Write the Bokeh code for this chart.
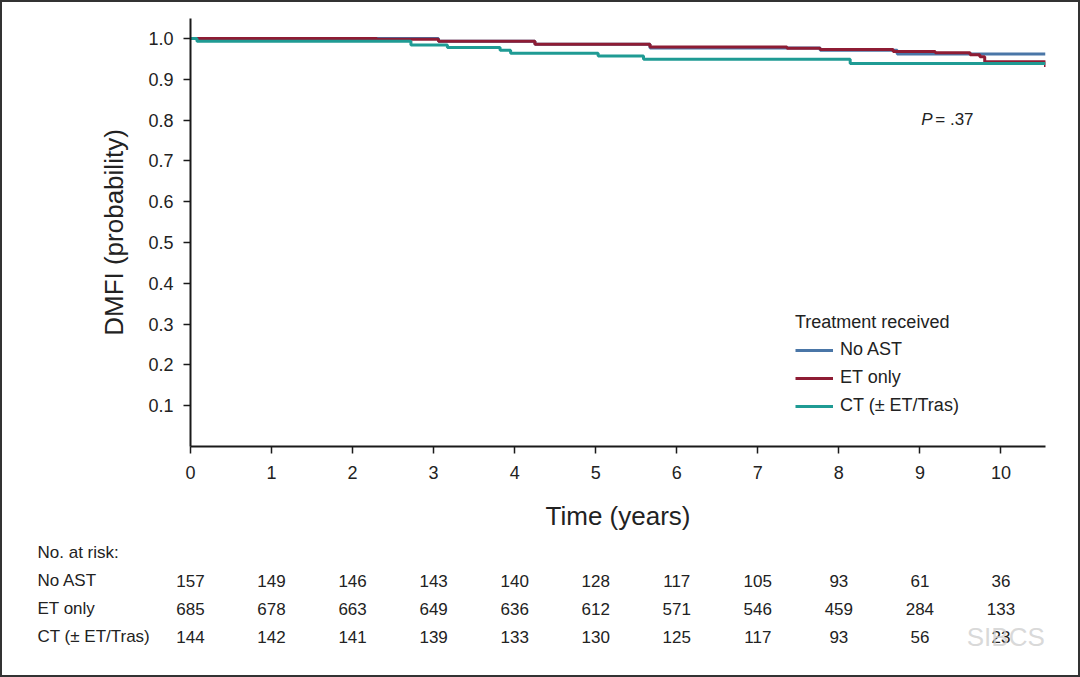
from bokeh.plotting import figure
from bokeh.models import Range1d, Legend, LegendItem, Label, FixedTicker, NumeralTickFormatter
from bokeh.layouts import column
from bokeh.embed import file_html
from bokeh.resources import INLINE
from bokeh.core.properties import value

# ---------------- data ----------------
years = [0, 1, 2, 3, 4, 5, 6, 7, 8, 9, 10]
y_ticks = [0.1, 0.2, 0.3, 0.4, 0.5, 0.6, 0.7, 0.8, 0.9, 1.0]
groups = ["No AST", "ET only", "CT (\u00b1 ET/Tras)"]
colors = ["#4a76a7", "#8e1c34", "#1f9b94"]

noast_t = [0, 3.06, 4.25, 5.67, 7.77, 8.72, 10.55]
noast_s = [1.0, 0.993, 0.986, 0.977, 0.971, 0.962, 0.962]

et_t = [0, 2.3, 3.06, 4.25, 5.67, 7.36, 7.77, 8.67, 9.19, 9.62, 9.74, 9.80, 10.55]
et_s = [1.0, 0.998, 0.993, 0.986, 0.979, 0.976, 0.973, 0.968, 0.965, 0.960, 0.955, 0.943, 0.930]

ct_t = [0, 0.08, 2.72, 3.17, 3.82, 3.95, 5.03, 5.59, 8.14, 10.55]
ct_s = [1.0, 0.993, 0.984, 0.978, 0.971, 0.964, 0.957, 0.949, 0.939, 0.939]

noast_risk = [157, 149, 146, 143, 140, 128, 117, 105, 93, 61, 36]
et_risk = [685, 678, 663, 649, 636, 612, 571, 546, 459, 284, 133]
ct_risk = [144, 142, 141, 139, 133, 130, 125, 117, 93, 56, 23]

risk_header = "No. at risk:"
p_value_label = "= .37"
x_end = 10.55
y_end = 1.049

FONT = "Liberation Sans"
TXT = "#222222"

# ---------------- main plot ----------------
W = 1076
left_b, right_b = 188, 33
p = figure(width=W, height=538, x_range=Range1d(0, x_end), y_range=Range1d(0, y_end),
           min_border_left=left_b, min_border_right=right_b, min_border_top=16,
           min_border_bottom=94, output_backend="svg", toolbar_location=None)
p.outline_line_color = None
p.grid.visible = False
p.background_fill_color = "white"
p.border_fill_color = "white"

for ax in (p.xaxis[0], p.yaxis[0]):
    ax.axis_line_color = "#1a1a1a"
    ax.axis_line_width = 2
    ax.major_tick_line_color = "#1a1a1a"
    ax.major_tick_line_width = 1.5
    ax.major_tick_out = 7
    ax.major_tick_in = 0
    ax.minor_tick_line_color = None
    ax.major_label_text_font = FONT
    ax.major_label_text_color = TXT
    ax.axis_label_text_font = FONT
    ax.axis_label_text_color = TXT
    ax.axis_label_text_font_style = "normal"

p.xaxis.ticker = FixedTicker(ticks=years)
p.xaxis.major_label_text_font_size = "18px"
p.xaxis.major_label_standoff = 12
p.xaxis.axis_label = "Time (years)"
p.xaxis.axis_label_text_font_size = "26px"
p.xaxis.axis_label_standoff = 19

p.yaxis.ticker = FixedTicker(ticks=y_ticks)
p.yaxis.formatter = NumeralTickFormatter(format="0.0")
p.yaxis.major_label_text_font_size = "18px"
p.yaxis.major_label_standoff = 10
p.yaxis.axis_label = "DMFI (probability)"
p.yaxis.axis_label_text_font_size = "26px"
p.yaxis.axis_label_standoff = 16

r_no = p.step(noast_t, noast_s, mode="after", line_color=colors[0], line_width=3)
r_et = p.step(et_t, et_s, mode="after", line_color=colors[1], line_width=3)
r_ct = p.step(ct_t, ct_s, mode="after", line_color=colors[2], line_width=3)

legend = Legend(items=[LegendItem(label=groups[0], renderers=[r_no]),
                       LegendItem(label=groups[1], renderers=[r_et]),
                       LegendItem(label=groups[2], renderers=[r_ct])],
                location=(605, 30), title="Treatment received",
                title_text_font=FONT, title_text_font_size="18px", title_text_color=TXT,
                title_text_font_style="normal", title_standoff=6,
                label_text_font=FONT, label_text_font_size="18px", label_text_color=TXT,
                glyph_width=38, glyph_height=18, label_height=18, label_standoff=7,
                spacing=7, padding=0, margin=0,
                background_fill_alpha=0, border_line_color=None)
p.add_layout(legend)

ppy = (W - left_b - right_b) / x_end
p.add_layout(Label(x=9.156, y=0.801, text="P", text_font=FONT, text_font_size="17px",
                   text_font_style="italic", text_color=TXT, text_align="right",
                   text_baseline="middle"))
p.add_layout(Label(x=9.19, y=0.801, text=p_value_label, text_font=FONT, text_font_size="17px",
                   text_color=TXT, text_align="left", text_baseline="middle"))

# ---------------- risk table ----------------
TH = 135
x0 = -left_b / ppy
x1 = x0 + W / ppy
row_gap = 28
top_px = 12
t = figure(width=W, height=TH, x_range=Range1d(x0, x1),
           y_range=Range1d((TH - top_px) / row_gap, -top_px / row_gap),
           x_axis_type=None, y_axis_type=None, min_border=0,
           min_border_left=0, min_border_right=0, min_border_top=0, min_border_bottom=0,
           output_backend="svg", toolbar_location=None)
t.outline_line_color = None
t.grid.visible = False
t.frame_align = False
p.frame_align = False

label_x = x0 + 35 / ppy
t.text(x=[label_x] * 4, y=[0, 1, 2, 3], text=[risk_header] + groups,
       text_font=value(FONT), text_font_size="17px", text_color=TXT,
       text_align="left", text_baseline="middle")

for i, row in enumerate([noast_risk, et_risk, ct_risk]):
    t.text(x=years, y=[i + 1] * len(years), text=[str(v) for v in row],
           text_font=value(FONT), text_font_size="17px", text_color=TXT,
           text_align="center", text_baseline="middle")

t.text(x=[10.06], y=[3], text=["SIBCS"], text_font=value(FONT), text_font_size="26px",
       text_color="#cfcfcf", text_alpha=0.8, text_align="center", text_baseline="middle")

layout = column(p, t, spacing=0, styles={"border": "2px solid #333333", "background": "white"})

open("out.html", "w").write(file_html(layout, INLINE))
